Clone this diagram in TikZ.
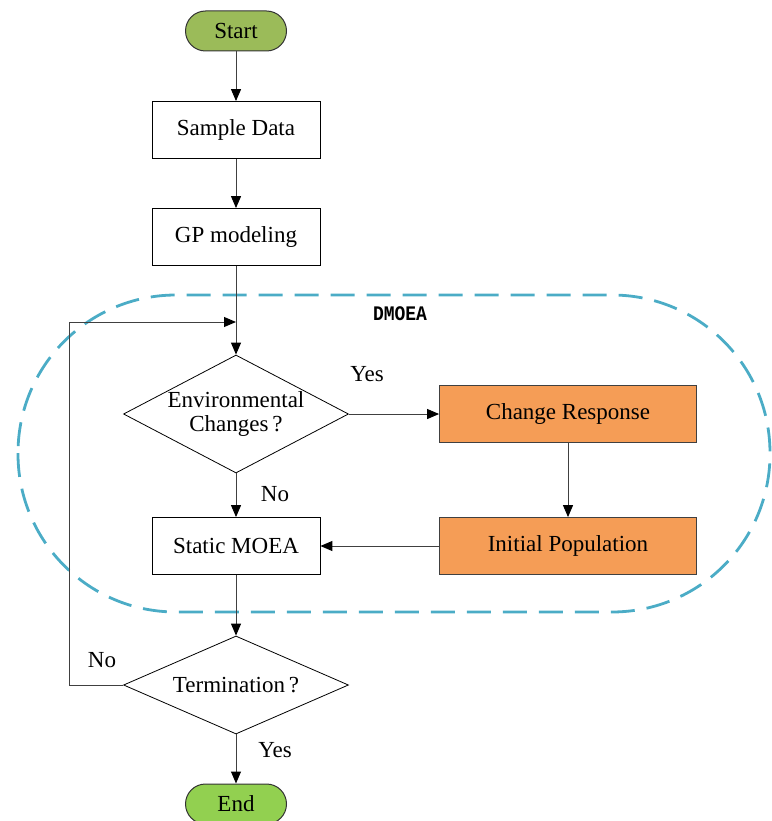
\documentclass[tikz,border=0pt]{standalone}
\usepackage{fontspec}
\setmainfont{Liberation Serif}
\setmonofont{Liberation Mono}
\usetikzlibrary{shapes.geometric,arrows.meta}
\definecolor{startgreen}{HTML}{9BBB59}
\definecolor{endgreen}{HTML}{92D050}
\definecolor{boxorange}{HTML}{F59D56}
\definecolor{dashblue}{HTML}{4BACC6}
\definecolor{linegray}{HTML}{404040}
\tikzset{
  txt/.style={font=\fontsize{23}{26}\selectfont},
  pill/.style={txt, draw=black!80, line width=1pt, rounded corners=20pt, minimum width=101pt, minimum height=40pt, inner sep=0pt},
  procbox/.style={txt, draw=black, line width=0.8pt, minimum width=168pt, minimum height=57pt, inner sep=0pt},
  orangebox/.style={procbox, fill=boxorange, draw=black!75, minimum width=257pt},
  decision/.style={txt, draw=black, line width=0.8pt, diamond, inner sep=0pt, align=center},
  conn/.style={draw=linegray, line width=1pt, -{Triangle[length=12pt,width=10pt,fill=black,color=black]}},
  plainconn/.style={draw=linegray, line width=1pt},
  lbl/.style={txt, inner sep=0pt}
}
\begin{document}
\begin{tikzpicture}[x=1pt,y=-1pt]
\useasboundingbox (0,0) rectangle (771,821);
% dashed DMOEA region
\draw[dashblue, line width=2.8pt, dash pattern=on 24pt off 12pt, rounded corners=158pt] (18,295) rectangle (770,612);
\node[font=\fontsize{18}{20}\ttfamily\bfseries, inner sep=0pt, yscale=1.15] (dmoea) at (400,314) {DMOEA};

\node[pill, fill=startgreen] (start) at (236,31) {Start};
\node[procbox] (sample) at (236,130) {Sample Data};
\node[procbox] (gp) at (236,237) {GP modeling};
\node[decision, shape aspect=1.9, minimum width=225pt, minimum height=118pt] (env) at (236,414) {Environmental\\[-2pt]Changes\,?};
\node[procbox] (static) at (236,546) {Static MOEA};
\node[orangebox] (resp) at (568,414) {Change Response};
\node[orangebox] (init) at (568,546) {Initial Population};
\node[decision, shape aspect=2.3, minimum width=225pt, minimum height=98pt] (term) at (236,685) {Termination\,?};
\node[pill, fill=endgreen] (end) at (236,804) {End};

\coordinate (merge) at (236,322);
\coordinate (loopb) at (69,685);
\coordinate (loopt) at (69,322);

\draw[conn] (start) -- (sample);
\draw[conn] (sample) -- (gp);
\draw[conn] (gp) -- (env);
\draw[plainconn] (term.west) -- (loopb) -- (loopt);
\draw[conn] (loopt) -- (merge);
\draw[conn] (env.east) -- (resp.west);
\draw[conn] (env.south) -- (static.north);
\draw[conn] (resp.south) -- (init.north);
\draw[conn] (init.west) -- (static.east);
\draw[conn] (static.south) -- (term.north);
\draw[conn] (term.south) -- (end.north);

\node[lbl] (yes1) at (367,374) {Yes};
\node[lbl] (no1) at (275,494) {No};
\node[lbl] (no2) at (102,660) {No};
\node[lbl] (yes2) at (275,750) {Yes};
\end{tikzpicture}
\end{document}
